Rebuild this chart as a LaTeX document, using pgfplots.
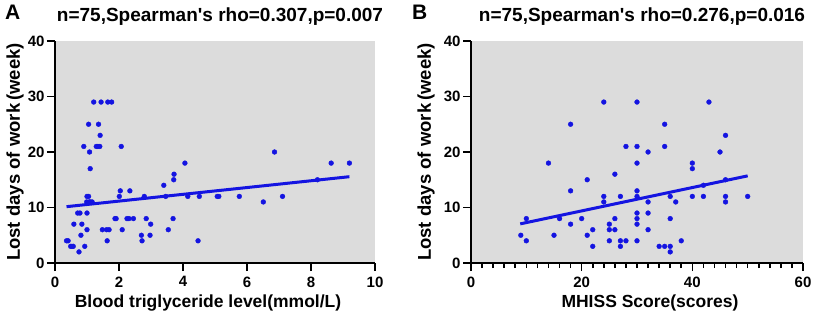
\documentclass[border=0pt]{standalone}
\usepackage{pgfplots}
\pgfplotsset{compat=1.18}
\usepackage{fontspec}
\setmainfont{Liberation Sans}
\definecolor{bgg}{RGB}{220,220,220}
\definecolor{dotb}{RGB}{20,20,225}
\pgfplotsset{mystyle/.style={scale only axis, height=222pt, ymin=0, ymax=40, ytick={0,10,20,30,40},
 axis x line=bottom, axis y line=left, axis line style={line width=2.2pt,-},
 tick style={line width=1.6pt,black}, major tick length=8pt, minor tick length=5pt, tick align=outside,
 axis background/.style={fill=bgg},
 ticklabel style={font=\bfseries\fontsize{15}{17}\selectfont},
 xticklabel style={yshift=-2pt},
 yticklabel style={xshift=1pt},
 /pgf/number format/assume math mode=true,
 label style={font=\bfseries\fontsize{17.5}{20}\selectfont},
 title style={font=\bfseries\fontsize{19}{21}\selectfont, at={(axis description cs:0.5,1)}, anchor=base, yshift=13pt, xshift=5pt},
 ylabel={Lost days of work\,(week)},
 xlabel style={at={(axis description cs:0.5,0)}, anchor=base, yshift=-44pt},
}}
\begin{document}
\begin{tikzpicture}
\begin{axis}[mystyle, at={(0pt,0pt)}, anchor=south west, width=320pt, xmin=0, xmax=10, xtick={0,2,4,6,8,10},
 xlabel={Blood triglyceride level(mmol/L)},
 xlabel style={xshift=-7pt},
 ylabel style={at={(axis description cs:0,0.5)}, anchor=center, yshift=40pt, font=\bfseries\fontsize{18.5}{20}\selectfont},
 title={n=75,Spearman\textquotesingle s rho=0.307,p=0.007}]
\addplot[only marks, mark=*, mark size=2.4pt, color=dotb] table {
0.36 4
0.41 4
0.49 3
0.57 3
0.53 3
0.75 2
0.93 3
0.59 7
0.84 7
0.81 5
0.71 9
0.78 9
1.00 9
1.00 6
1.00 12
1.05 12
0.99 11
1.07 11
1.16 11
1.10 11
1.10 17
1.08 20
0.90 21
1.29 21
1.34 21
1.40 21
1.05 25
1.36 25
1.41 23
1.21 29
1.44 29
1.65 29
1.77 29
2.07 21
1.48 6
1.61 6
1.69 6
1.63 4
1.875 8
1.91 8
2.10 6
2.01 12
2.04 13
2.34 13
2.25 8
2.31 8
2.45 8
2.70 5
2.72 4
2.79 12
2.85 8
2.99 7
2.97 5
3.40 14
3.46 12
3.54 6
3.69 8
3.71 15
3.72 16
4.06 18
4.15 12
4.47 4
4.51 12
5.07 12
5.12 12
5.76 12
6.51 11
6.86 20
7.11 12
8.20 15
8.63 18
9.20 18
};
\addplot[dotb, line width=3pt] coordinates {(0.36,10.15) (9.2,15.55)};
\end{axis}
\begin{axis}[mystyle, at={(416pt,0pt)}, anchor=south west, width=332pt, xmin=0, xmax=60, xtick={0,20,40,60},
 minor x tick num=9,
 xlabel={MHISS Score(scores)},
 xlabel style={xshift=13pt},
 ylabel style={at={(axis description cs:0,0.5)}, anchor=center, yshift=45pt, font=\bfseries\fontsize{18.5}{20}\selectfont},
 title={n=75,Spearman\textquotesingle s rho=0.276,p=0.016}]
\addplot[only marks, mark=*, mark size=2.4pt, color=dotb] table {
24 29
30 29
43 29
18 25
35 25
46 23
28 21
30 21
35 21
32 20
45 20
14 18
30 18
40 18
40 17
26 16
21 15
46 15
42 14
18 13
30 13
24 12
27 12
30 12
36 12
40 12
42 12
46 12
50 12
24 11
32 11
37 11
46 11
30 9
32 9
10 8
16 8
20 8
26 8
30 8
36 8
18 7
25 7
30 7
22 6
25 6
26 6
32 6
9 5
15 5
21 5
10 4
25 4
27 4
28 4
30 4
38 4
22 3
27 3
34 3
35 3
36 3
36 2
};
\addplot[dotb, line width=3pt] coordinates {(8.9,7.05) (50,15.7)};
\end{axis}
\node[font=\bfseries\fontsize{21}{23}\selectfont, anchor=north west, inner sep=0pt] at (-50pt,258pt) {A};
\node[font=\bfseries\fontsize{21}{23}\selectfont, anchor=north west, inner sep=0pt] at (357pt,258pt) {B};
\pgfresetboundingbox
\path (-55pt,-50pt) rectangle (758pt,263pt);
\end{tikzpicture}
\end{document}
